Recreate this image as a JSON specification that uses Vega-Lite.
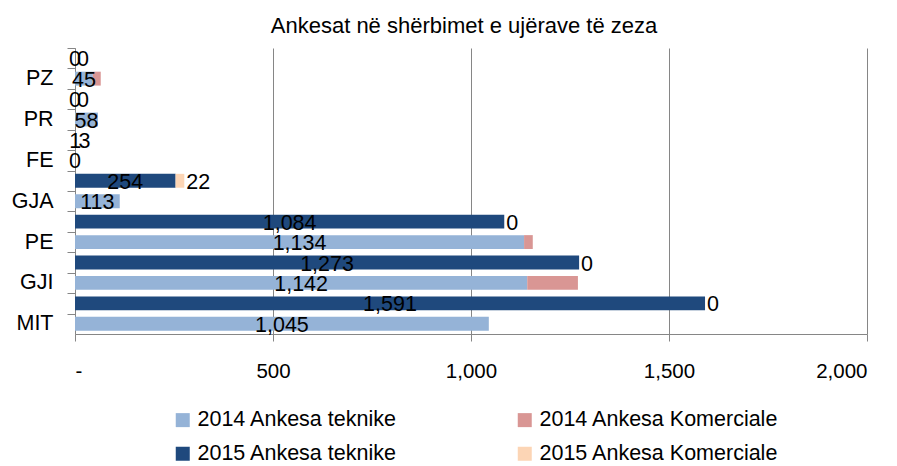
{
  "$schema": "https://vega.github.io/schema/vega-lite/v6.json",
  "width": 792,
  "height": 286,
  "autosize": {"type": "none"},
  "padding": {"left": 75, "top": 48, "right": 30, "bottom": 132},
  "background": "white",
  "config": {
    "view": {"stroke": null},
    "font": "Liberation Sans",
    "text": {"font": "Liberation Sans"}
  },
  "title": {
    "text": "Ankesat në shërbimet e ujërave të zeza",
    "fontSize": 22,
    "fontWeight": "normal",
    "color": "#000000",
    "font": "Liberation Sans",
    "anchor": "middle",
    "offset": 9,
    "dx": -7
  },
  "data": {
    "values": [
      {"cat": "PZ", "year": "2015", "type": "Ankesa teknike", "order": 1, "value": 0},
      {"cat": "PZ", "year": "2015", "type": "Ankesa Komerciale", "order": 2, "value": 0},
      {"cat": "PZ", "year": "2014", "type": "Ankesa teknike", "order": 1, "value": 45},
      {"cat": "PZ", "year": "2014", "type": "Ankesa Komerciale", "order": 2, "value": 20},
      {"cat": "PR", "year": "2015", "type": "Ankesa teknike", "order": 1, "value": 0},
      {"cat": "PR", "year": "2015", "type": "Ankesa Komerciale", "order": 2, "value": 0},
      {"cat": "PR", "year": "2014", "type": "Ankesa teknike", "order": 1, "value": 58},
      {"cat": "PR", "year": "2014", "type": "Ankesa Komerciale", "order": 2, "value": 0},
      {"cat": "FE", "year": "2015", "type": "Ankesa teknike", "order": 1, "value": 1},
      {"cat": "FE", "year": "2015", "type": "Ankesa Komerciale", "order": 2, "value": 3},
      {"cat": "FE", "year": "2014", "type": "Ankesa teknike", "order": 1, "value": 0},
      {"cat": "FE", "year": "2014", "type": "Ankesa Komerciale", "order": 2, "value": 0},
      {"cat": "GJA", "year": "2015", "type": "Ankesa teknike", "order": 1, "value": 254},
      {"cat": "GJA", "year": "2015", "type": "Ankesa Komerciale", "order": 2, "value": 22},
      {"cat": "GJA", "year": "2014", "type": "Ankesa teknike", "order": 1, "value": 113},
      {"cat": "GJA", "year": "2014", "type": "Ankesa Komerciale", "order": 2, "value": 0},
      {"cat": "PE", "year": "2015", "type": "Ankesa teknike", "order": 1, "value": 1084},
      {"cat": "PE", "year": "2015", "type": "Ankesa Komerciale", "order": 2, "value": 0},
      {"cat": "PE", "year": "2014", "type": "Ankesa teknike", "order": 1, "value": 1134},
      {"cat": "PE", "year": "2014", "type": "Ankesa Komerciale", "order": 2, "value": 22},
      {"cat": "GJI", "year": "2015", "type": "Ankesa teknike", "order": 1, "value": 1273},
      {"cat": "GJI", "year": "2015", "type": "Ankesa Komerciale", "order": 2, "value": 0},
      {"cat": "GJI", "year": "2014", "type": "Ankesa teknike", "order": 1, "value": 1142},
      {"cat": "GJI", "year": "2014", "type": "Ankesa Komerciale", "order": 2, "value": 128},
      {"cat": "MIT", "year": "2015", "type": "Ankesa teknike", "order": 1, "value": 1591},
      {"cat": "MIT", "year": "2015", "type": "Ankesa Komerciale", "order": 2, "value": 0},
      {"cat": "MIT", "year": "2014", "type": "Ankesa teknike", "order": 1, "value": 1045},
      {"cat": "MIT", "year": "2014", "type": "Ankesa Komerciale", "order": 2, "value": 0}
    ]
  },
  "transform": [
    {"calculate": "datum.cat + '|' + datum.year", "as": "slot"},
    {"calculate": "datum.year + ' ' + datum.type", "as": "series"},
    {"stack": "value", "groupby": ["slot"], "sort": [{"field": "order", "order": "ascending"}], "as": ["x0", "x1"]},
    {"calculate": "(datum.x0 + datum.x1) / 2", "as": "xmid"}
  ],
  "encoding": {
    "y": {
      "field": "slot",
      "type": "nominal",
      "scale": {
        "domain": ["PZ|2015", "PZ|2014", "PR|2015", "PR|2014", "FE|2015", "FE|2014", "GJA|2015", "GJA|2014", "PE|2015", "PE|2014", "GJI|2015", "GJI|2014", "MIT|2015", "MIT|2014"],
        "paddingInner": 0.32,
        "paddingOuter": 0.16
      },
      "axis": {
        "title": null,
        "labelExpr": "indexof(datum.value, '2014') >= 0 ? split(datum.value, '|')[0] : ''",
        "labelFontSize": 21.5,
        "labelColor": "#000000",
        "labelFont": "Liberation Sans",
        "labelPadding": 14,
        "bandPosition": 0,
        "tickOffset": -3.27,
        "labelOffset": 3.27,
        "tickSize": 8,
        "tickColor": "#868686",
        "domainColor": "#868686",
        "labelAlign": "right",
        "labelBaseline": "middle"
      }
    }
  },
  "layer": [
    {
      "mark": {"type": "bar"},
      "encoding": {
        "x": {
          "field": "x0",
          "type": "quantitative",
          "scale": {"domain": [0, 2000], "nice": false},
          "axis": {
            "title": null,
            "values": [0, 500, 1000, 1500, 2000],
            "labelExpr": "datum.value == 0 ? '-' : format(datum.value, ',')",
            "grid": true,
            "gridColor": "#868686",
            "gridWidth": 1,
            "gridOpacity": 1,
            "domainColor": "#868686",
            "tickColor": "#868686",
            "tickSize": 7,
            "labelFontSize": 20.5,
            "labelColor": "#000000",
            "labelFont": "Liberation Sans",
            "labelPadding": 20
          }
        },
        "x2": {"field": "x1"},
        "color": {
          "field": "series",
          "type": "nominal",
          "scale": {
            "domain": ["2014 Ankesa teknike", "2014 Ankesa Komerciale", "2015 Ankesa teknike", "2015 Ankesa Komerciale"],
            "range": ["#95B3D7", "#D99694", "#1F497D", "#FCD5B5"]
          },
          "legend": {
            "title": null,
            "orient": "none",
            "legendX": 97,
            "legendY": 361,
            "direction": "horizontal",
            "columns": 2,
            "columnPadding": 116,
            "rowPadding": 11,
            "symbolType": "square",
            "symbolSize": 196,
            "symbolStrokeWidth": 0,
            "labelFontSize": 21.5,
            "labelFont": "Liberation Sans",
            "labelColor": "#000000",
            "labelOffset": 4,
            "labelLimit": 400
          }
        }
      }
    },
    {
      "transform": [{"filter": "datum.type == 'Ankesa teknike'"}],
      "mark": {"type": "text", "fontSize": 21.5, "baseline": "middle", "align": "center", "dy": 2, "color": "#000000"},
      "encoding": {
        "x": {"field": "xmid", "type": "quantitative"},
        "text": {"field": "value", "type": "quantitative", "format": ","}
      }
    },
    {
      "transform": [{"filter": "datum.type == 'Ankesa Komerciale' && datum.year == '2015'"}],
      "mark": {"type": "text", "fontSize": 21.5, "baseline": "middle", "align": "left", "dx": 2, "dy": 2, "color": "#000000"},
      "encoding": {
        "x": {"field": "x1", "type": "quantitative"},
        "text": {"field": "value", "type": "quantitative", "format": ","}
      }
    }
  ]
}
